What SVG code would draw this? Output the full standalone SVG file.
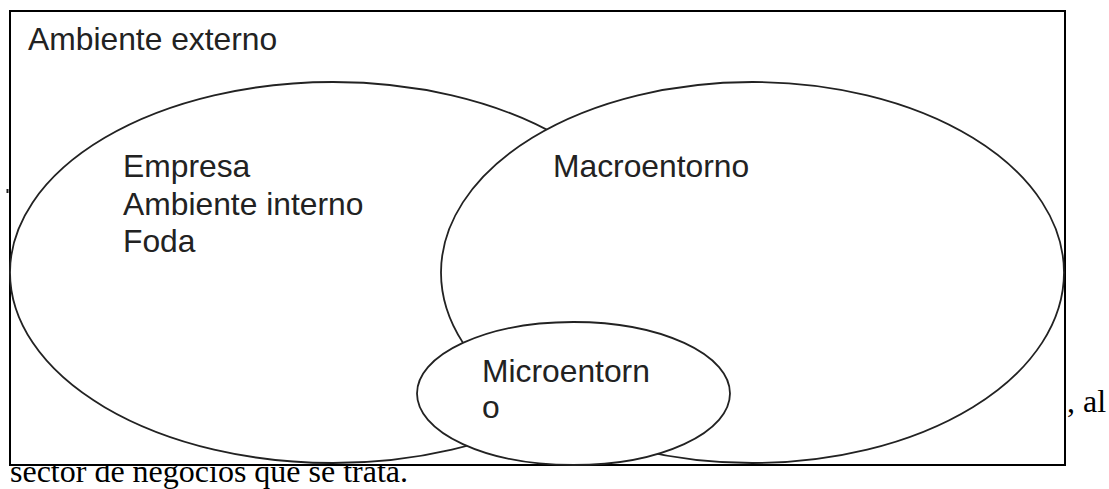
<svg xmlns="http://www.w3.org/2000/svg" width="1109" height="489" viewBox="0 0 1109 489">
<style>
.serif{font-family:"Liberation Serif","Times New Roman",serif;font-size:32px;fill:#000}
.lbl{font-family:"Liberation Sans",Arial,sans-serif;font-size:31.8px;fill:#222}
.shape{fill:#fff;stroke:#222;stroke-width:1.8}
</style>
<rect width="1109" height="489" fill="#fff"/>
<text class="serif" x="10" y="482">sector de negocios que se trata.</text>
<text class="serif" x="1067" y="412">, al</text>
<rect x="6.5" y="189" width="2" height="4" fill="#222"/>
<g id="ambiente-externo">
<rect x="10" y="11" width="1055" height="454" fill="#fff" stroke="#000" stroke-width="2"/>
<text class="lbl" x="28" y="50">Ambiente externo</text>
</g>
<g id="empresa">
<ellipse class="shape" cx="333" cy="272.5" rx="323" ry="190.5"/>
<text class="lbl" x="123" y="177">Empresa</text>
<text class="lbl" x="123" y="215">Ambiente interno</text>
<text class="lbl" x="123" y="252">Foda</text>
</g>
<g id="macroentorno">
<ellipse class="shape" cx="752.5" cy="272.5" rx="311.5" ry="190.5"/>
<text class="lbl" x="553" y="177">Macroentorno</text>
</g>
<g id="microentorno">
<ellipse class="shape" cx="573.5" cy="393.5" rx="156.5" ry="71.5"/>
<text class="lbl" x="482" y="382">Microentorn</text>
<text class="lbl" x="482" y="418">o</text>
</g>
<g id="connectors"></g>
</svg>
